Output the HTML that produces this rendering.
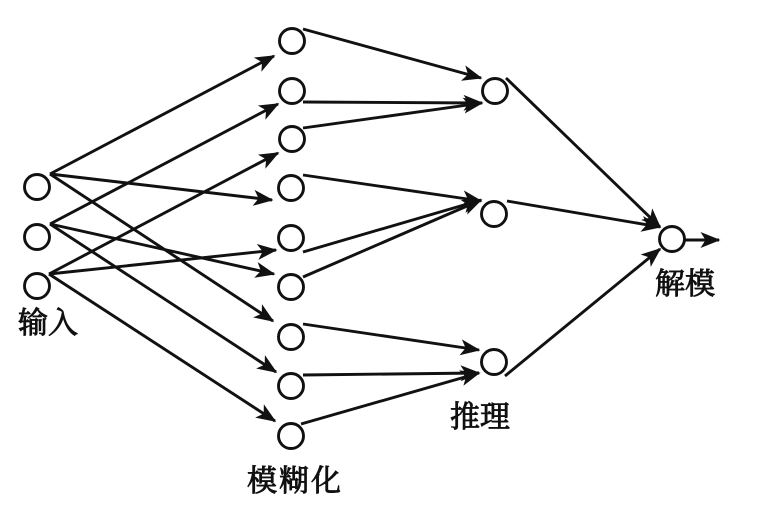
<!DOCTYPE html>
<html lang="zh">
<head>
<meta charset="utf-8">
<style>
html,body{margin:0;padding:0;background:#fff;width:760px;height:522px;overflow:hidden}
svg{display:block}
text{font-family:"Liberation Serif","Noto Serif CJK SC",serif;font-size:30px;fill:#111;stroke:#111;stroke-width:.9}
line{stroke:#111;stroke-width:2.9}
circle{fill:none;stroke:#111;stroke-width:2.9}
</style>
</head>
<body>
<svg width="760" height="522" viewBox="0 0 760 522" xmlns="http://www.w3.org/2000/svg">
<defs>
<marker id="a" markerUnits="userSpaceOnUse" markerWidth="22" markerHeight="18" refX="18.5" refY="8" orient="auto" viewBox="0 0 22 16" overflow="visible">
<path d="M0 0L20 8L0 16L5 8Z" fill="#111"/>
</marker>
</defs>
<line x1="50" y1="174" x2="274" y2="56" marker-end="url(#a)"/>
<line x1="50" y1="174" x2="272" y2="200" marker-end="url(#a)"/>
<line x1="50" y1="174" x2="273" y2="321" marker-end="url(#a)"/>
<line x1="50" y1="224" x2="278" y2="104" marker-end="url(#a)"/>
<line x1="50" y1="224" x2="274" y2="274" marker-end="url(#a)"/>
<line x1="50" y1="224" x2="276" y2="372" marker-end="url(#a)"/>
<line x1="49" y1="274" x2="278" y2="153" marker-end="url(#a)"/>
<line x1="49" y1="274" x2="276" y2="250" marker-end="url(#a)"/>
<line x1="49" y1="274" x2="275" y2="421" marker-end="url(#a)"/>
<line x1="303" y1="29" x2="481" y2="78" marker-end="url(#a)"/>
<line x1="303" y1="102" x2="482" y2="103" marker-end="url(#a)"/>
<line x1="303" y1="128" x2="482" y2="103" marker-end="url(#a)"/>
<line x1="303" y1="175" x2="481" y2="201" marker-end="url(#a)"/>
<line x1="303" y1="252" x2="481" y2="200" marker-end="url(#a)"/>
<line x1="303" y1="277" x2="481" y2="200" marker-end="url(#a)"/>
<line x1="303" y1="324" x2="479" y2="350" marker-end="url(#a)"/>
<line x1="303" y1="375" x2="479" y2="373" marker-end="url(#a)"/>
<line x1="301" y1="424" x2="479" y2="373" marker-end="url(#a)"/>
<line x1="506" y1="78" x2="660" y2="227" marker-end="url(#a)"/>
<line x1="507" y1="201" x2="660" y2="227" marker-end="url(#a)"/>
<line x1="505" y1="376" x2="660" y2="249" marker-end="url(#a)"/>
<line x1="684" y1="240" x2="719" y2="240" marker-end="url(#a)"/>
<circle cx="37" cy="187" r="12.5"/>
<circle cx="37" cy="237" r="12.5"/>
<circle cx="37" cy="286" r="12.5"/>
<circle cx="292" cy="41" r="12.5"/>
<circle cx="292" cy="91" r="12.5"/>
<circle cx="292" cy="139" r="12.5"/>
<circle cx="291" cy="188" r="12.5"/>
<circle cx="291" cy="238" r="12.5"/>
<circle cx="291" cy="287" r="12.5"/>
<circle cx="291" cy="337" r="12.5"/>
<circle cx="291" cy="386" r="12.5"/>
<circle cx="291" cy="436" r="12.5"/>
<circle cx="495" cy="91" r="12.5"/>
<circle cx="494" cy="214" r="12.5"/>
<circle cx="494" cy="362" r="12.5"/>
<circle cx="672" cy="239" r="12.5"/>
<text x="18" y="333">输入</text>
<text x="450" y="427">推理</text>
<text x="247" y="491" style="letter-spacing:2px">模糊化</text>
<text x="655" y="294">解模</text>
</svg>
</body>
</html>
